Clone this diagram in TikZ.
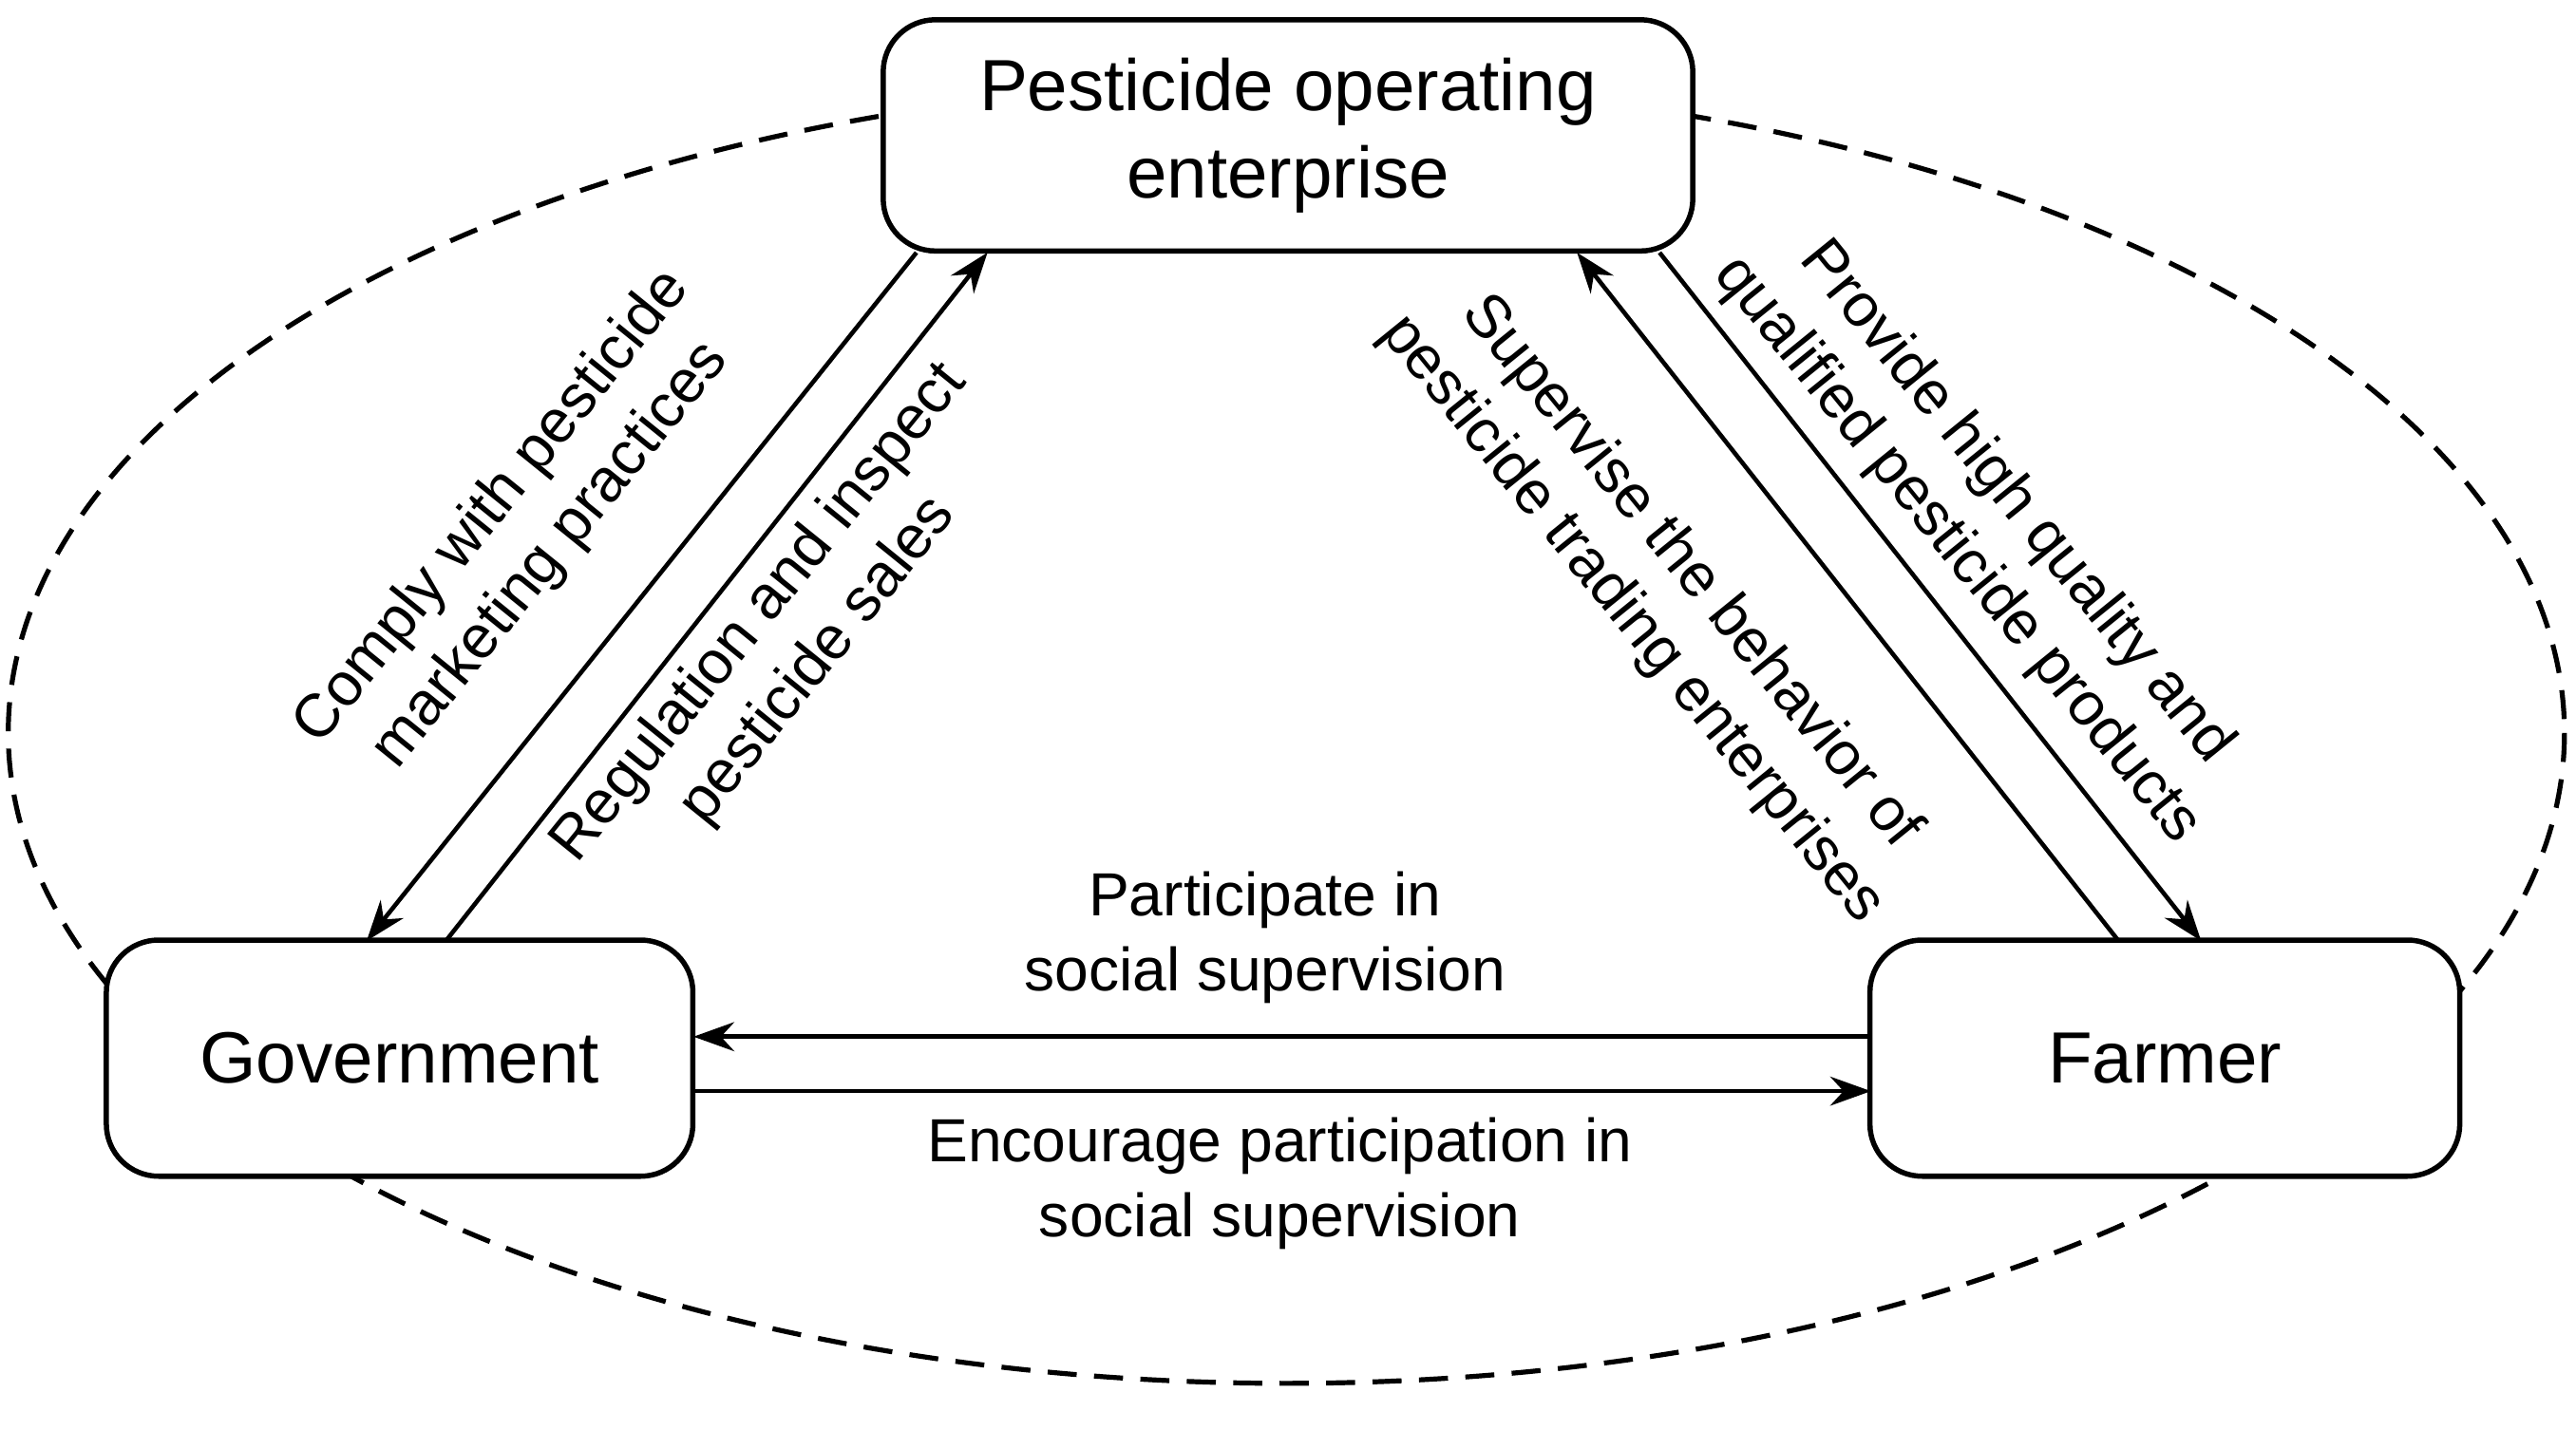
\documentclass[tikz,border=0pt]{standalone}
\usepackage{fontspec}
\setmainfont{Liberation Sans}
\usetikzlibrary{arrows.meta}
\begin{document}
\begin{tikzpicture}[x=0.01cm,y=-0.01cm,line width=0.75pt,>={Stealth[length=7pt,width=5pt]}]
	\useasboundingbox (0,0) rectangle (1560,866);
	\draw[dash pattern=on 5pt off 3pt,line width=0.85pt] (779,444) ellipse [x radius=774,y radius=394];
	\begin{scope}[every node/.style={draw,fill=white,rounded corners=9pt,align=center,font=\fontsize{12.5}{15}\selectfont,line width=0.9pt}]
		\node[minimum width=4.9cm,minimum height=1.4cm] (ent) at (780,82) {Pesticide operating\\enterprise};
		\node[minimum width=3.55cm,minimum height=1.43cm] (gov) at (242,641) {Government};
		\node[minimum width=3.57cm,minimum height=1.43cm] (far) at (1311,641) {Farmer};
	\end{scope}
	
	\coordinate (e1) at (555,153);
	\coordinate (e2) at (598,153);
	\coordinate (e3) at (955,153);
	\coordinate (e4) at (1005,153);
	\coordinate (g1) at (222,570);
	\coordinate (g2) at (270,570);
	\coordinate (f1) at (1283,570);
	\coordinate (f2) at (1333,570);
	\coordinate (g3) at (420,628);
	\coordinate (g4) at (420,661);
	\coordinate (f3) at (1133,628);
	\coordinate (f4) at (1133,661);
	
	\begin{scope}[every node/.style={align=center,font=\fontsize{10.5}{13}\selectfont}]
		\draw[->] (e1) -- (g1);
		\draw[->] (g2) -- (e2);
		\draw[->] (f1) -- (e3);
		\draw[->] (e4) -- (f2);
		\draw[->] (f3) -- (g3);
		\draw[->] (g4) -- (f4);
		
		\node[rotate=51] (l1) at (316,322) {Comply with pesticide\\marketing practices};
		\node[rotate=51] (l2) at (478,386) {Regulation and inspect\\pesticide sales};
		\node[rotate=-51] (l3) at (1006,361) {Supervise the behavior of\\pesticide trading enterprises};
		\node[rotate=-51] (l4) at (1203,319) {Provide high quality and\\qualified pesticide products};
		\node (l5) at (766,568) {Participate in\\social supervision};
		\node (l6) at (775,717) {Encourage participation in\\social supervision};
	\end{scope}
\end{tikzpicture}
\end{document}
